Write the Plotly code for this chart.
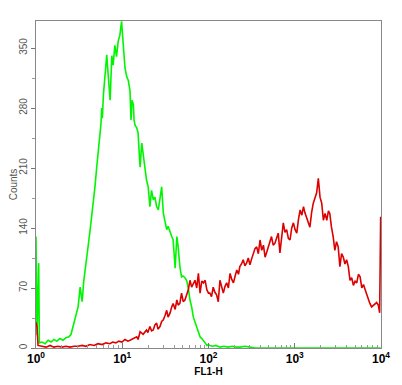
import numpy as np
import plotly.graph_objects as go

# Channel numbers (1024-channel log scale, 4 decades) and counts
green_channel = [0, 3, 8, 10, 18, 27, 36, 45, 53, 62, 71, 80, 89, 98, 104, 110, 116, 122, 125, 131,
                 134, 137, 142, 148, 151, 157, 163, 169, 175, 180, 185, 190, 193, 195, 197, 200, 205,
                 210, 214, 220, 225, 229, 234, 239, 244, 249, 254, 259, 264, 269, 274, 279, 282, 285,
                 289, 291, 294, 299, 303, 306, 309, 314, 318, 324, 328, 333, 338, 343, 348, 353, 358,
                 363, 368, 373, 378, 383, 388, 392, 398, 403, 407, 413, 418, 422, 427, 432, 436, 442,
                 447, 452, 457, 462, 467, 472, 477, 482, 487, 492, 497, 502, 507, 511, 516, 525, 534,
                 546, 558, 570, 582, 594, 605, 620, 635, 650, 700, 800, 900, 1023]
green_counts = [130, 15, 99, 6, 7, 5, 9, 7, 10, 8, 11, 9, 12, 13, 16, 25, 33, 42, 48, 71,
                60, 54, 79, 100, 112, 126, 146, 165, 188, 210, 230, 249, 262, 280, 268, 295, 323,
                342, 320, 289, 341, 330, 353, 340, 358, 365, 381, 347, 327, 317, 312, 300, 266, 289,
                284, 266, 260, 257, 251, 230, 211, 239, 227, 208, 196, 188, 165, 184, 173, 176, 165,
                161, 175, 188, 157, 145, 138, 142, 134, 130, 126, 93, 130, 118, 95, 83, 84, 82,
                79, 70, 56, 48, 36, 30, 25, 19, 13, 11, 9, 6, 3, 4, 3, 2, 3,
                1, 2, 1, 2, 1, 1, 2, 1, 0, 0, 0, 0, 0]

red_channel = [0, 3, 6, 18, 30, 42, 53, 65, 77, 89, 101, 113, 125, 137, 148, 160, 172, 184, 196, 208,
               219, 228, 237, 246, 255, 264, 273, 279, 288, 299, 303, 309, 318, 328, 332, 338, 343,
               348, 353, 358, 362, 368, 373, 378, 383, 388, 392, 398, 403, 407, 413, 418, 422, 427,
               432, 437, 442, 447, 452, 457, 462, 467, 472, 477, 482, 487, 492, 497, 502, 507, 512,
               516, 521, 526, 531, 536, 541, 546, 551, 556, 561, 566, 571, 576, 581, 586, 591, 596,
               601, 605, 610, 615, 620, 625, 630, 635, 640, 645, 650, 655, 660, 665, 670, 675, 680,
               685, 690, 694, 699, 704, 709, 714, 719, 724, 729, 734, 739, 744, 749, 754, 759, 764,
               769, 774, 779, 784, 789, 794, 798, 803, 808, 813, 818, 823, 828, 833, 838, 843, 848,
               853, 858, 863, 868, 872, 877, 882, 887, 892, 897, 902, 907, 912, 917, 922, 927, 932,
               937, 942, 947, 952, 957, 962, 967, 972, 977, 982, 987, 991, 996, 1001, 1006, 1011,
               1016, 1020, 1023]
red_counts = [30, 25, 3, 2, 1, 3, 1, 2, 1, 2, 1, 2, 2, 3, 2, 4, 3, 5, 4, 6,
              5, 7, 6, 8, 7, 10, 8, 9, 11, 13, 10, 19, 16, 21, 18, 25, 20,
              21, 27, 29, 22, 25, 31, 33, 38, 44, 36, 41, 48, 52, 45, 56, 50, 52,
              64, 54, 56, 62, 68, 79, 71, 75, 79, 70, 87, 64, 78, 76, 79, 68, 64,
              64, 60, 71, 65, 62, 54, 79, 70, 64, 72, 76, 70, 87, 80, 76, 84, 91,
              86, 95, 98, 103, 96, 99, 105, 97, 104, 111, 116, 118, 110, 126, 114, 120, 106,
              112, 118, 124, 130, 120, 122, 128, 134, 111, 128, 146, 135, 138, 128, 126, 140, 146,
              138, 134, 150, 161, 155, 165, 158, 153, 148, 141, 158, 169, 175, 181, 198, 176, 169,
              149, 157, 149, 160, 157, 141, 130, 114, 124, 118, 95, 110, 106, 98, 103, 95, 79,
              82, 73, 78, 76, 86, 83, 70, 74, 68, 62, 56, 52, 48, 50, 52, 53,
              50, 41, 153]

y_ticks = [0, 70, 140, 210, 280, 350]
y_minor_ticks = [35, 105, 175, 245, 315]
x_ticks = [1, 10, 100, 1000, 10000]
x_ticktext = ["<b>10<sup>0</sup></b>", "<b>10<sup>1</sup></b>", "<b>10<sup>2</sup></b>",
              "<b>10<sup>3</sup></b>", "<b>10<sup>4</sup></b>"]
x_minor_ticks = [m * d for d in [1, 10, 100, 1000] for m in range(2, 10)]

def to_fl1(ch):
    return [10 ** (c / 256.0) for c in ch]

fig = go.Figure()
fig.add_trace(go.Scatter(x=to_fl1(green_channel), y=green_counts, mode="lines",
                         line=dict(color="rgb(0,245,0)", width=1.6), showlegend=False))
fig.add_trace(go.Scatter(x=to_fl1(red_channel), y=red_counts, mode="lines",
                         line=dict(color="rgb(220,0,0)", width=1.6), showlegend=False))

font_family = "Arial, Liberation Sans, sans-serif"
# page body has an 8px margin, so the figure is sized/offset to compensate
fig.update_layout(
    width=394, height=377,
    margin=dict(l=28, r=21, t=13, b=37, autoexpand=False),
    paper_bgcolor="white", plot_bgcolor="white",
    font=dict(family=font_family),
)
fig.update_xaxes(
    type="log", range=[0, 4], automargin=False,
    tickmode="array", tickvals=x_ticks, ticktext=x_ticktext,
    tickfont=dict(size=12, color="black"),
    ticks="inside", ticklen=5, tickcolor="#777",
    minor=dict(tickmode="array", tickvals=x_minor_ticks, ticks="inside", ticklen=3,
               tickcolor="#999", showgrid=False),
    showline=True, linecolor="#888", linewidth=1, mirror=True,
    showgrid=False, zeroline=False,
    title=dict(text="<b>FL1-H</b>", font=dict(size=10, color="black"), standoff=0),
)
fig.update_yaxes(
    range=[0, 381.5], automargin=False,
    tickmode="array", tickvals=y_ticks, tickangle=-90,
    tickfont=dict(size=10, color="#555"),
    ticks="outside", ticklen=4, tickcolor="#777",
    minor=dict(tickmode="array", tickvals=y_minor_ticks, ticks="outside", ticklen=3,
               tickcolor="#999", showgrid=False),
    showline=True, linecolor="#888", linewidth=1, mirror=True,
    showgrid=False, zeroline=False,
    title=dict(text="Counts", font=dict(size=10, color="#555"), standoff=2),
)

fig.write_html("out.html")
